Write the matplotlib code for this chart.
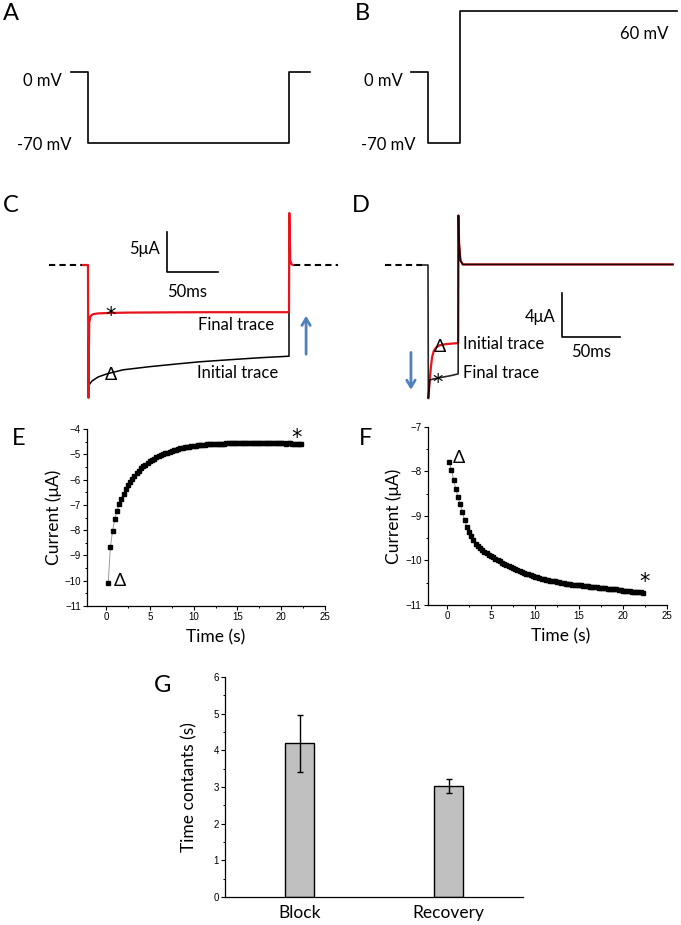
import matplotlib
matplotlib.use('Agg')
import matplotlib.pyplot as plt
from matplotlib.ticker import MultipleLocator
from matplotlib.transforms import offset_copy

plt.rcParams['font.family'] = ['Liberation Sans', 'DejaVu Sans']
TXT = ['Lato', 'DejaVu Sans']

# A, B: voltage protocols (ms, mV)
t_A = [-17, 0, 0, 200, 200, 221]
v_A = [0, 0, -70, -70, 0, 0]
t_B = [-15, 0, 0, 28, 28, 215]
v_B = [0, 0, -70, -70, 60, 60]

# C: hyperpolarising step, currents in uA
t_C_init = [0.4, 1, 4, 10, 19, 35, 62, 90, 111, 140, 170, 200, 200]
i_C_init = [-16.0, -15.0, -14.5, -14.0, -13.6, -13.1, -12.7, -12.35, -12.1, -11.85, -11.6, -11.4, -5.9]
t_C_final = [-5, 0, 0.4, 1.2, 2.5, 5, 10, 20, 40, 80, 120, 160, 200, 200.3, 201.2, 202.5, 204]
i_C_final = [0, 0, -16.6, -7.2, -6.4, -6.15, -6.05, -6.0, -5.95, -5.92, -5.9, -5.9, -5.9, 6.5, 0.6, 0.1, 0]

# D: step to -70 then +60 mV
t_D_init = [0.3, 1.5, 2.5, 3.5, 5, 7, 10, 15, 20, 26, 26.2, 26.8, 28, 30, 60, 120, 211]
i_D_init = [-12.1, -10.4, -9.3, -8.4, -7.8, -7.5, -7.3, -7.2, -7.15, -7.1, 4.5, 2.0, 0.4, 0.05, 0.05, 0.05, 0.05]
t_D_final = [-5, 0, 0.3, 1.5, 5, 10, 15, 20, 26, 26.2, 26.8, 28, 30, 60, 120, 211]
i_D_final = [0, 0, -12.1, -10.45, -10.35, -10.25, -10.15, -10.05, -9.9, 4.5, 2.0, 0.4, 0.05, 0.05, 0.05, 0.05]

# E, F: current at end of each sweep (s, uA)
sweep_t = [0.25, 0.5, 0.75, 1.0, 1.25, 1.5, 1.75, 2.0,
           2.25, 2.5, 2.75, 3.0, 3.25, 3.5, 3.75, 4.0,
           4.25, 4.5, 4.75, 5.0, 5.25, 5.5, 5.75, 6.0,
           6.25, 6.5, 6.75, 7.0, 7.25, 7.5, 7.75, 8.0,
           8.25, 8.5, 8.75, 9.0, 9.25, 9.5, 9.75, 10.0,
           10.25, 10.5, 10.75, 11.0, 11.25, 11.5, 11.75, 12.0,
           12.25, 12.5, 12.75, 13.0, 13.25, 13.5, 13.75, 14.0,
           14.25, 14.5, 14.75, 15.0, 15.25, 15.5, 15.75, 16.0,
           16.25, 16.5, 16.75, 17.0, 17.25, 17.5, 17.75, 18.0,
           18.25, 18.5, 18.75, 19.0, 19.25, 19.5, 19.75, 20.0,
           20.25, 20.5, 20.75, 21.0, 21.25, 21.5, 21.75, 22.0,
           22.25]
cur_E = [-10.10, -8.68, -8.02, -7.57, -7.24, -6.98, -6.75, -6.56,
         -6.38, -6.23, -6.09, -5.96, -5.85, -5.74, -5.65, -5.56,
         -5.48, -5.41, -5.34, -5.28, -5.22, -5.17, -5.12, -5.08,
         -5.04, -5.00, -4.96, -4.93, -4.90, -4.87, -4.84, -4.82,
         -4.79, -4.77, -4.75, -4.73, -4.72, -4.70, -4.69, -4.67,
         -4.66, -4.65, -4.64, -4.63, -4.62, -4.61, -4.61, -4.60,
         -4.60, -4.59, -4.59, -4.58, -4.58, -4.58, -4.57, -4.57,
         -4.57, -4.57, -4.56, -4.56, -4.56, -4.56, -4.56, -4.56,
         -4.56, -4.57, -4.56, -4.56, -4.56, -4.57, -4.57, -4.56,
         -4.56, -4.57, -4.57, -4.57, -4.56, -4.57, -4.57, -4.57,
         -4.57, -4.58, -4.57, -4.57, -4.58, -4.58, -4.58, -4.58,
         -4.58]
cur_F = [-7.78, -7.97, -8.20, -8.40, -8.58, -8.74, -8.92, -9.10,
         -9.25, -9.35, -9.46, -9.55, -9.62, -9.68, -9.73, -9.77,
         -9.80, -9.84, -9.87, -9.90, -9.93, -9.96, -9.99, -10.02,
         -10.05, -10.08, -10.11, -10.13, -10.15, -10.17, -10.19, -10.21,
         -10.23, -10.26, -10.28, -10.30, -10.31, -10.33, -10.35, -10.37,
         -10.38, -10.40, -10.41, -10.42, -10.43, -10.44, -10.45, -10.46,
         -10.47, -10.48, -10.49, -10.50, -10.51, -10.52, -10.52, -10.53,
         -10.54, -10.54, -10.55, -10.56, -10.56, -10.57, -10.58, -10.58,
         -10.59, -10.59, -10.60, -10.60, -10.61, -10.61, -10.62, -10.62,
         -10.63, -10.63, -10.64, -10.65, -10.65, -10.66, -10.67, -10.68,
         -10.68, -10.69, -10.69, -10.70, -10.70, -10.70, -10.71, -10.71,
         -10.72]

# G: time constants
groups = ['Block', 'Recovery']
tau_mean = [4.19, 3.03]
tau_err = [0.78, 0.19]

RED = '#e8141c'
BLUE = '#4f81bd'

W, H = 681, 925
fig = plt.figure(figsize=(W / 100, H / 100), dpi=100)


def panel(box, xa, ya):
    # box in pixels (left, top, right, bottom); xa/ya = two (pixel, value) anchors
    l, t, r, b = box
    ax = fig.add_axes([l / W, 1 - b / H, (r - l) / W, (b - t) / H])
    (p1, v1), (p2, v2) = xa
    s = (v2 - v1) / (p2 - p1)
    ax.set_xlim(v1 + (l - p1) * s, v1 + (r - p1) * s)
    (q1, w1), (q2, w2) = ya
    s = (w2 - w1) / (q2 - q1)
    ax.set_ylim(w1 + (b - q1) * s, w1 + (t - q1) * s)
    ax.axis('off')
    return ax


def letter(x, y, s):
    fig.text(x / W, 1 - y / H, s, fontsize=17, family=TXT, ha='left', va='center')


def txt(ax, x, y, s, ha='left', size=12):
    ax.text(x, y, s, fontsize=size, family=TXT, ha=ha, va='center')


def star(ax, x, y):
    # asterisk glyph sits high in its line box, so push it down onto the point
    tr = offset_copy(ax.transData, fig=fig, y=-2.2, units='points')
    ax.text(x, y, '*', fontsize=15, family='DejaVu Sans', ha='center', va='center', transform=tr)


# ---- A ----
axA = panel((0, 0, 340, 190), ((88, 0), (289, 200)), ((72, 0), (143, -70)))
axA.plot(t_A, v_A, 'k', lw=1.2)
txt(axA, -26, -9, '0 mV', ha='right')
txt(axA, -16, -72, '-70 mV', ha='right')

# ---- B ----
axB = panel((340, 0, 681, 190), ((428, 0), (486, 50)), ((72, 0), (143, -70)))
axB.plot(t_B, v_B, 'k', lw=1.2)
txt(axB, -22, -9, '0 mV', ha='right')
txt(axB, -11, -72, '-70 mV', ha='right')
txt(axB, 207, 37, '60 mV', ha='right')

# ---- C ----
axC = panel((0, 190, 340, 420), ((88, 0), (289, 200)), ((265, 0), (273, -1)))
axC.plot([-39, -5], [0, 0], 'k', lw=1.5, dashes=(3, 2))
axC.plot([205, 249], [0, 0], 'k', lw=1.5, dashes=(3, 2))
axC.plot(t_C_init, i_C_init, 'k', lw=1.1)
axC.plot(t_C_final, i_C_final, color=RED, lw=1.6)
axC.plot([79, 79, 129], [4.1, -0.9, -0.9], 'k', lw=1.2)
txt(axC, 71.5, 2.0, '5μA', ha='right')
txt(axC, 79, -3.4, '50ms')
txt(axC, 109.5, -7.5, 'Final trace')
txt(axC, 108.5, -13.5, 'Initial trace')
star(axC, 22, -6.0)
txt(axC, 23, -13.7, 'Δ', ha='center', size=13)
axC.annotate('', xy=(217, -6.0), xytext=(217, -11.5),
             arrowprops=dict(arrowstyle='->,head_length=0.5,head_width=0.3', color=BLUE, lw=2))

# ---- D ----
axD = panel((340, 190, 681, 420), ((428, 0), (486, 50)), ((265, 0), (276, -1)))
axD.plot([-37, -5], [0, 0], 'k', lw=1.5, dashes=(3, 2))
axD.plot(t_D_init, i_D_init, color=RED, lw=1.6)
axD.plot(t_D_final, i_D_final, 'k', lw=1.2, alpha=0.85)
axD.plot([115.5, 115.5, 165.5], [-2.55, -6.55, -6.55], 'k', lw=1.2)
txt(axD, 109.5, -4.7, '4μA', ha='right')
txt(axD, 141, -7.9, '50ms', ha='center')
txt(axD, 30, -7.2, 'Initial trace')
txt(axD, 30, -9.8, 'Final trace')
txt(axD, 10.3, -7.5, 'Δ', ha='center', size=13)
star(axD, 8.6, -10.45)
axD.annotate('', xy=(-14.7, -11.6), xytext=(-14.7, -7.7),
             arrowprops=dict(arrowstyle='->,head_length=0.5,head_width=0.3', color=BLUE, lw=2))


def style(ax):
    for s in ['top', 'right']:
        ax.spines[s].set_visible(False)
    for s in ['left', 'bottom']:
        ax.spines[s].set_linewidth(0.9)
    ax.tick_params(which='major', direction='out', length=3, width=0.8, labelsize=7, pad=1.5)
    ax.tick_params(which='minor', direction='out', length=1.6, width=0.7)


def box_ax(l, t, r, b):
    return fig.add_axes([l / W, 1 - b / H, (r - l) / W, (b - t) / H])


# ---- E ----
axE = box_ax(87, 429, 325, 606)
axE.plot(sweep_t, cur_E, color='#8c8c8c', lw=0.6, marker='s', ms=3.0, mfc='k', mec='k')
axE.set_xlim(-2.17, 25)
axE.set_ylim(-11, -4)
axE.xaxis.set_major_locator(MultipleLocator(5))
axE.xaxis.set_minor_locator(MultipleLocator(2.5))
axE.yaxis.set_major_locator(MultipleLocator(1))
axE.yaxis.set_minor_locator(MultipleLocator(0.5))
style(axE)
axE.set_ylabel('Current (μA)', fontsize=12.5, family=TXT)
axE.set_xlabel('Time (s)', fontsize=12.5, family=TXT)
axE.yaxis.set_label_coords(-0.105, 0.5)
axE.xaxis.set_label_coords(0.54, -0.13)
txt(axE, 1.6, -10.0, 'Δ', ha='center', size=13)
star(axE, 21.8, -4.25)

# ---- F ----
axF = box_ax(428, 427, 667, 605)
axF.plot(sweep_t, cur_F, color='#8c8c8c', lw=0.6, marker='s', ms=3.0, mfc='k', mec='k')
axF.set_xlim(-2.17, 25)
axF.set_ylim(-11, -7)
axF.xaxis.set_major_locator(MultipleLocator(5))
axF.xaxis.set_minor_locator(MultipleLocator(2.5))
axF.yaxis.set_major_locator(MultipleLocator(1))
axF.yaxis.set_minor_locator(MultipleLocator(0.5))
style(axF)
axF.set_ylabel('Current (μA)', fontsize=12.5, family=TXT)
axF.set_xlabel('Time (s)', fontsize=12.5, family=TXT)
axF.yaxis.set_label_coords(-0.11, 0.5)
axF.xaxis.set_label_coords(0.555, -0.13)
txt(axF, 1.35, -7.7, 'Δ', ha='center', size=13)
star(axF, 22.4, -10.42)

# ---- G ----
axG = box_ax(225, 677, 523, 897)
axG.bar([1, 2], tau_mean, width=0.2, color='#c0c0c0', edgecolor='k', linewidth=1,
        yerr=tau_err, capsize=2.5, error_kw=dict(elinewidth=1, capthick=1))
axG.set_xlim(0.5, 2.5)
axG.set_ylim(0, 6)
axG.yaxis.set_major_locator(MultipleLocator(1))
axG.yaxis.set_minor_locator(MultipleLocator(0.5))
style(axG)
axG.set_xticks([1, 2])
axG.set_xticklabels(groups, fontsize=12.5, family=TXT)
axG.tick_params(axis='x', which='both', length=0, pad=6)
axG.set_ylabel('Time contants (s)', fontsize=12.5, family=TXT)
axG.yaxis.set_label_coords(-0.094, 0.5)

letter(3, 14, 'A')
letter(355, 14, 'B')
letter(3, 206, 'C')
letter(352, 206, 'D')
letter(12, 438, 'E')
letter(359, 438, 'F')
letter(154, 686, 'G')

fig.savefig('out.png', dpi=100)
